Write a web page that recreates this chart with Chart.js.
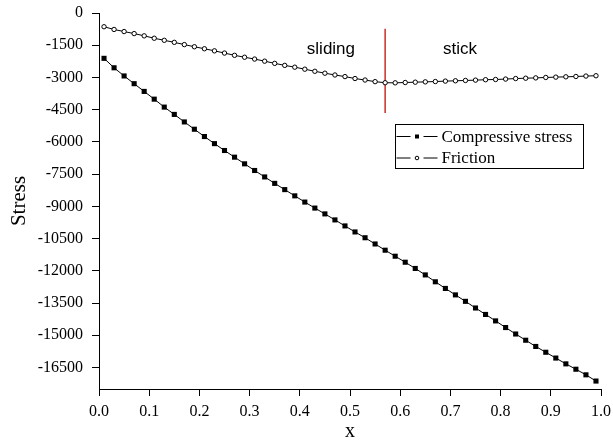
<!DOCTYPE html>
<html lang="en">
    <head>
        <meta charset="utf-8" />
        <script src="https://cdn.jsdelivr.net/npm/chart.js@4.4.1/dist/chart.umd.min.js"></script>
        <title>Stress</title>
        <style>
            html, body { margin: 0; padding: 0; background: #fff; }
        </style>
    </head>
    <body>
        <canvas id="stressChart" width="613" height="446"></canvas>
        <script>
            // positions along the contact (x)
            const positions = [0.01, 0.03, 0.05, 0.07, 0.09, 0.11, 0.13, 0.15, 0.17, 0.19,
                               0.21, 0.23, 0.25, 0.27, 0.29, 0.31, 0.33, 0.35, 0.37, 0.39,
                               0.41, 0.43, 0.45, 0.47, 0.49, 0.51, 0.53, 0.55, 0.57, 0.59,
                               0.61, 0.63, 0.65, 0.67, 0.69, 0.71, 0.73, 0.75, 0.77, 0.79,
                               0.81, 0.83, 0.85, 0.87, 0.89, 0.91, 0.93, 0.95, 0.97, 0.99];
            const compressive = [-2110, -2550, -2930, -3290, -3650, -4010, -4380, -4720, -5070, -5410,
                                 -5750, -6080, -6400, -6710, -7020, -7330, -7630, -7930, -8220, -8510,
                                 -8800, -9080, -9350, -9630, -9910, -10190, -10460, -10750, -11040, -11320,
                                 -11600, -11890, -12190, -12510, -12820, -13120, -13420, -13730, -14030, -14330,
                                 -14640, -14940, -15230, -15520, -15790, -16060, -16330, -16580, -16840, -17130];
            const friction = [-640, -766, -864, -958, -1063, -1175, -1271, -1366, -1471, -1571,
                              -1664, -1761, -1865, -1970, -2059, -2144, -2242, -2344, -2438, -2522,
                              -2615, -2713, -2802, -2885, -2960, -3050, -3120, -3195, -3245, -3250,
                              -3235, -3220, -3205, -3190, -3170, -3155, -3140, -3125, -3105, -3095,
                              -3075, -3050, -3035, -3020, -3000, -2985, -2970, -2955, -2935, -2920];
            // boundary between the sliding and stick zones
            const boundaryX = 0.57;
            const boundaryY = [-730, -4650];
            const zoneNames = ["sliding", "stick"];
            const zoneX = [0.462, 0.719];
            const zoneY = -1710;
            const yTicks = [0, -1500, -3000, -4500, -6000, -7500, -9000, -10500, -12000, -13500, -15000, -16500];
            const xTicks = [0, 0.1, 0.2, 0.3, 0.4, 0.5, 0.6, 0.7, 0.8, 0.9, 1.0];

            const serif = "'Liberation Serif', 'Times New Roman', serif";
            const sans = "'Liberation Sans', Arial, sans-serif";

            // zone names and the boxed legend drawn inside the plot
            const extras = {
                id: "extras",
                afterDatasetsDraw(chart) {
                    const ctx = chart.ctx;
                    const x = chart.scales.x, y = chart.scales.y;
                    ctx.save();
                    ctx.fillStyle = "#000";
                    ctx.font = "17px " + sans;
                    ctx.textAlign = "center";
                    ctx.textBaseline = "middle";
                    zoneNames.forEach((name, i) => ctx.fillText(name, x.getPixelForValue(zoneX[i]), y.getPixelForValue(zoneY)));

                    // legend box
                    const left = 395.5, top = 124.5, w = 188, h = 44;
                    ctx.strokeStyle = "#000";
                    ctx.lineWidth = 1;
                    ctx.strokeRect(left, top, w, h);
                    ctx.font = "17px " + serif;
                    ctx.textAlign = "left";
                    chart.data.datasets.slice(0, 2).forEach((ds, i) => {
                        const cy = top + 12 + i * 21.5;
                        ctx.beginPath();
                        ctx.moveTo(left + 1, cy); ctx.lineTo(left + 15, cy);
                        ctx.moveTo(left + 28, cy); ctx.lineTo(left + 42, cy);
                        ctx.stroke();
                        if (ds.pointStyle === "rect") {
                            ctx.fillRect(left + 19.5, cy - 2, 4, 4);
                        } else {
                            ctx.beginPath();
                            ctx.arc(left + 21.5, cy, 1.8, 0, Math.PI * 2);
                            ctx.fillStyle = "#fff"; ctx.fill(); ctx.stroke();
                            ctx.fillStyle = "#000";
                        }
                        ctx.fillText(ds.label, left + 46, cy + 1);
                    });
                    ctx.restore();
                }
            };

            new Chart(document.getElementById("stressChart"), {
                type: "line",
                data: {
                    datasets: [
                        {
                            label: "Compressive stress",
                            data: positions.map((p, i) => ({ x: p, y: compressive[i] })),
                            borderColor: "#000", borderWidth: 1,
                            pointStyle: "rect", pointRadius: 3.6,
                            pointBackgroundColor: "#000", pointBorderWidth: 0
                        },
                        {
                            label: "Friction",
                            data: positions.map((p, i) => ({ x: p, y: friction[i] })),
                            borderColor: "#000", borderWidth: 1,
                            pointStyle: "circle", pointRadius: 2.2,
                            pointBackgroundColor: "#fff", pointBorderColor: "#000", pointBorderWidth: 1
                        },
                        {
                            label: "boundary",
                            data: boundaryY.map((v) => ({ x: boundaryX, y: v })),
                            borderColor: "#e2261c", borderWidth: 1.5, pointRadius: 0
                        }
                    ]
                },
                options: {
                    responsive: false,
                    animation: false,
                    layout: { padding: { left: 0, right: 12, top: 13, bottom: 0 } },
                    plugins: { legend: { display: false }, tooltip: { enabled: false } },
                    scales: {
                        x: {
                            type: "linear", min: 0, max: 1,
                            afterBuildTicks: (s) => { s.ticks = xTicks.map((v) => ({ value: v })); },
                            afterFit: (s) => { s.height = 57; s.paddingLeft = 0; s.paddingRight = 0; },
                            grid: { drawOnChartArea: false, drawTicks: true, tickLength: 7, color: "#000" },
                            border: { color: "#000", width: 1 },
                            ticks: { color: "#000", padding: 6, font: { family: serif, size: 16 }, callback: (v) => v.toFixed(1), maxRotation: 0 },
                            title: { display: true, text: "x", color: "#000", font: { family: serif, size: 20 }, padding: { top: 0, bottom: 2 } }
                        },
                        y: {
                            type: "linear", min: -17500, max: 0,
                            afterBuildTicks: (s) => { s.ticks = yTicks.map((v) => ({ value: v })); },
                            afterFit: (s) => { s.width = 99; s.paddingTop = 0; s.paddingBottom = 0; },
                            grid: { drawOnChartArea: false, drawTicks: true, tickLength: 7, color: "#000" },
                            border: { color: "#000", width: 1 },
                            ticks: { color: "#000", padding: 9, font: { family: serif, size: 16 }, callback: (v) => String(v) },
                            title: { display: true, text: "Stress", color: "#000", font: { family: serif, size: 21 }, padding: { top: 7, bottom: 0 } }
                        }
                    }
                },
                plugins: [extras]
            });
        </script>
    </body>
</html>
